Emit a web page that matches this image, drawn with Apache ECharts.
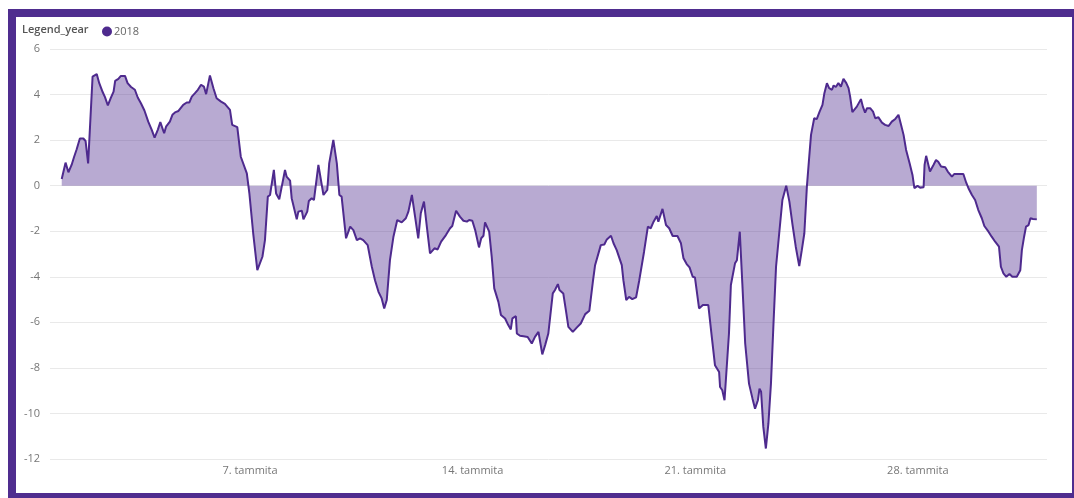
<!DOCTYPE html>
<html>
<head>
<meta charset="utf-8">
<script src="https://cdn.jsdelivr.net/npm/echarts@6/dist/echarts.min.js"></script>
<style>
  html, body { margin: 0; padding: 0; background: #ffffff; overflow: hidden; width: 1074px; height: 498px; }
  #frame { position: absolute; left: 8px; top: 9px; width: 1056px; height: 476px; border: 8px solid #4f2d8f; background: #fff; }
  #chart { position: absolute; left: 0; top: 0; width: 1056px; height: 476px; }
</style>
</head>
<body>
<div id="frame"><div id="chart"></div></div>
<script>
// Day of month (fractional) for each reading
const days = [1.08,1.20,1.29,1.39,1.47,1.55,1.65,1.76,1.83,1.91,2.05,2.18,2.26,2.37,2.44,2.53,2.62,2.71,2.76,2.86,2.94,3.07,3.15,3.26,3.38,3.47,3.57,3.68,3.80,3.91,4.00,4.10,4.18,4.30,4.36,4.48,4.56,4.66,4.75,4.79,4.90,5.01,5.09,5.17,5.27,5.36,5.46,5.55,5.62,5.74,5.85,5.95,6.09,6.21,6.37,6.44,6.60,6.71,6.90,6.98,7.10,7.23,7.39,7.47,7.56,7.63,7.75,7.82,7.92,8.10,8.15,8.26,8.31,8.47,8.52,8.63,8.68,8.80,8.85,8.94,9.01,9.15,9.31,9.43,9.49,9.62,9.73,9.81,9.88,10.02,10.15,10.25,10.36,10.46,10.56,10.70,10.83,10.93,11.04,11.14,11.22,11.30,11.40,11.51,11.63,11.77,11.90,11.98,12.09,12.19,12.29,12.37,12.47,12.56,12.66,12.80,12.90,13.01,13.16,13.29,13.36,13.48,13.60,13.71,13.82,13.89,13.99,14.08,14.20,14.27,14.34,14.39,14.52,14.60,14.68,14.74,14.81,14.89,15.02,15.12,15.20,15.25,15.36,15.39,15.49,15.60,15.73,15.86,15.96,16.07,16.19,16.28,16.38,16.52,16.59,16.68,16.73,16.85,16.94,17.01,17.15,17.28,17.40,17.54,17.67,17.78,17.85,18.03,18.14,18.22,18.35,18.43,18.53,18.69,18.74,18.83,18.92,19.02,19.14,19.24,19.39,19.51,19.60,19.69,19.79,19.84,19.97,20.08,20.18,20.29,20.44,20.55,20.63,20.73,20.82,20.92,20.99,21.12,21.24,21.41,21.52,21.62,21.75,21.78,21.85,21.92,22.06,22.12,22.25,22.31,22.40,22.48,22.57,22.69,22.80,22.88,22.97,23.02,23.07,23.14,23.22,23.30,23.38,23.46,23.54,23.64,23.74,23.86,23.96,24.06,24.16,24.27,24.35,24.43,24.51,24.58,24.64,24.74,24.82,24.91,25.00,25.06,25.14,25.21,25.30,25.35,25.42,25.50,25.58,25.66,25.75,25.82,25.87,25.94,26.08,26.21,26.27,26.34,26.40,26.50,26.59,26.66,26.76,26.87,26.97,27.08,27.18,27.29,27.39,27.47,27.55,27.63,27.74,27.83,27.89,27.99,28.07,28.18,28.21,28.26,28.38,28.49,28.57,28.64,28.73,28.86,28.94,29.07,29.14,29.43,29.52,29.59,29.70,29.80,29.90,30.01,30.09,30.22,30.32,30.43,30.55,30.61,30.69,30.78,30.88,30.97,31.11,31.22,31.27,31.34,31.40,31.48,31.54,31.62,31.74];
// Temperature readings for 2018
const temps2018 = [0.29,1.01,0.59,0.91,1.27,1.6,2.07,2.07,1.96,0.98,4.79,4.9,4.5,4.1,3.89,3.52,3.84,4.13,4.6,4.69,4.82,4.82,4.5,4.33,4.21,3.87,3.62,3.3,2.81,2.45,2.11,2.45,2.79,2.3,2.59,2.81,3.11,3.23,3.28,3.21,3.55,3.65,3.65,3.91,4.06,4.21,4.43,4.35,4.02,4.84,4.28,3.84,3.69,3.59,3.33,2.67,2.57,1.27,0.54,-0.34,-2.09,-3.71,-3.12,-2.39,-0.48,-0.41,0.69,-0.34,-0.6,0.69,0.4,0.22,-0.55,-1.48,-1.14,-1.1,-1.48,-1.14,-0.67,-0.55,-0.63,0.91,-0.41,-0.19,0.98,2.01,0.98,-0.41,-0.48,-2.31,-1.8,-1.95,-2.39,-2.31,-2.39,-2.61,-3.56,-4.15,-4.66,-4.95,-5.39,-5.02,-3.27,-2.24,-1.51,-1.61,-1.43,-1.14,-0.41,-1.36,-2.31,-1.21,-0.7,-1.8,-2.97,-2.75,-2.8,-2.46,-2.17,-1.87,-1.77,-1.1,-1.36,-1.54,-1.58,-1.51,-1.54,-1.95,-2.71,-2.31,-2.2,-1.61,-2.02,-3.12,-4.51,-4.58,-5.1,-5.68,-5.83,-6.12,-6.31,-5.83,-5.73,-6.49,-6.59,-6.61,-6.64,-6.93,-6.64,-6.42,-7.41,-7.0,-6.49,-4.73,-4.58,-4.32,-4.58,-4.73,-5.54,-6.2,-6.42,-6.22,-6.05,-5.64,-5.49,-4.22,-3.49,-2.61,-2.58,-2.36,-2.2,-2.53,-2.83,-3.49,-4.15,-5.02,-4.88,-4.98,-4.9,-4.15,-2.9,-1.8,-1.87,-1.58,-1.33,-1.58,-1.02,-1.73,-1.87,-2.21,-2.21,-2.53,-3.19,-3.44,-3.59,-4.0,-4.03,-5.39,-5.24,-5.24,-6.64,-7.88,-8.18,-8.84,-8.98,-9.42,-6.49,-4.36,-3.41,-3.27,-2.02,-4.29,-6.93,-8.69,-9.35,-9.79,-9.42,-8.91,-9.05,-10.59,-11.54,-10.44,-8.69,-6.05,-3.56,-2.09,-0.63,0.0,-0.7,-1.73,-2.68,-3.53,-2.83,-2.09,-0.04,1.2,2.23,2.96,2.92,3.25,3.55,4.06,4.5,4.28,4.21,4.4,4.33,4.5,4.35,4.69,4.5,4.28,3.91,3.23,3.47,3.8,3.47,3.21,3.4,3.4,3.25,2.96,3.0,2.77,2.67,2.62,2.81,2.93,3.11,2.67,2.23,1.57,0.98,0.47,-0.11,-0.01,-0.09,-0.07,0.91,1.31,0.62,0.91,1.13,1.05,0.84,0.81,0.62,0.4,0.51,0.51,0.13,-0.11,-0.41,-0.63,-1.07,-1.43,-1.77,-2.02,-2.24,-2.46,-2.68,-3.56,-3.85,-4.0,-3.88,-4.0,-4.0,-3.71,-2.83,-2.24,-1.8,-1.73,-1.43,-1.46,-1.48];
const seriesName = '2018';
const legendTitle = 'Legend_year';
const xTickDays = [7, 14, 21, 28];
const xTickLabels = ['7. tammita', '14. tammita', '21. tammita', '28. tammita'];
const yTicks = [-12, -10, -8, -6, -4, -2, 0, 2, 4, 6];

const purple = '#4e2a8e';
const font = 'Open Sans';
const chart = echarts.init(document.getElementById('chart'));
chart.setOption({
  animation: false,
  textStyle: { fontFamily: font },
  title: {
    text: legendTitle,
    left: 1, top: 2,
    textStyle: { fontSize: 11, fontWeight: 600, color: '#555555', fontFamily: font }
  },
  legend: {
    left: 81, top: 4,
    itemWidth: 10, itemHeight: 10, itemGap: 10,
    data: [{ name: seriesName, icon: 'circle' }],
    textStyle: { fontSize: 11, color: '#666666', fontFamily: font, padding: [0, 0, 0, -3] }
  },
  grid: { left: 34, right: 25, top: 32, bottom: 34, containLabel: false },
  xAxis: {
    type: 'value',
    min: 0.711, max: 32.06,
    axisLine: { show: false },
    axisTick: { show: false },
    splitLine: { show: false },
    axisLabel: {
      customValues: xTickDays,
      margin: 6,
      fontSize: 11, color: '#777777', fontFamily: font,
      formatter: v => { const i = xTickDays.indexOf(v); return i >= 0 ? xTickLabels[i] : ''; }
    }
  },
  yAxis: {
    type: 'value',
    min: yTicks[0], max: yTicks[yTicks.length - 1], interval: 2,
    axisLine: { show: false },
    axisTick: { show: false },
    splitLine: { lineStyle: { color: '#e9e9e9', width: 1 } },
    axisLabel: { margin: 10, fontSize: 11, color: '#777777', fontFamily: font }
  },
  series: [{
    name: seriesName,
    type: 'line',
    data: days.map((d, i) => [d, temps2018[i]]),
    showSymbol: false,
    symbol: 'none',
    color: purple,
    lineStyle: { color: purple, width: 2 },
    itemStyle: { color: purple },
    areaStyle: { color: purple, opacity: 0.4 }
  }]
});
</script>
</body>
</html>
